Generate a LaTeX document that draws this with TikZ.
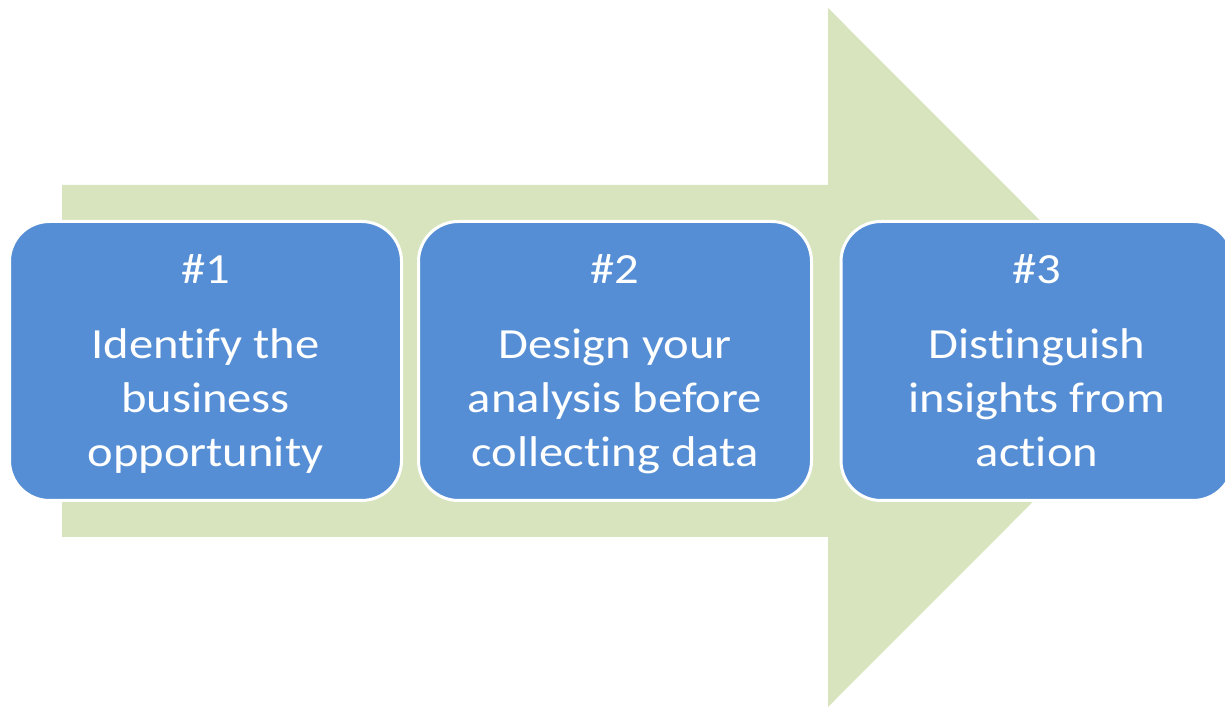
\documentclass[tikz,border=0pt]{standalone}
\usepackage{fontspec}
\setmainfont{Carlito}[FakeStretch=1.13, Ligatures=NoCommon]
\definecolor{arrowgreen}{HTML}{D7E4BD}
\definecolor{stepblue}{HTML}{558ED5}
% taller strut for the first line, nudging each text block slightly down
\newcommand{\topstrut}{\rule{0pt}{43.8pt}}
\begin{document}
\begin{tikzpicture}[x=1pt,y=1pt,
  stepbox/.style={draw=white, line width=3pt, fill=stepblue, rounded corners=40pt,
    minimum width=392pt, minimum height=279pt, inner sep=0pt,
    text=white, align=center, font=\fontsize{43}{54}\selectfont}]
\useasboundingbox (0,0) rectangle (1225,708);
% big process arrow behind the steps
\fill[arrowgreen] (62,523) -- (828,523) -- (828,700) -- (1177,350.5)
  -- (828,1) -- (828,171) -- (62,171) -- cycle;
% the three steps
\node[stepbox] (s1) at (205.5,347) {\topstrut\#1\\[21pt]Identify the\\business\\opportunity\strut};
\node[stepbox, minimum width=393pt] (s2) at (615,347) {\topstrut\#2\\[21pt]Design your\\analysis before\\collecting data\strut};
\node[stepbox] (s3) at (1037,347) {\topstrut\#3\\[21pt]Distinguish\\insights from\\action\strut};
\end{tikzpicture}
\end{document}
